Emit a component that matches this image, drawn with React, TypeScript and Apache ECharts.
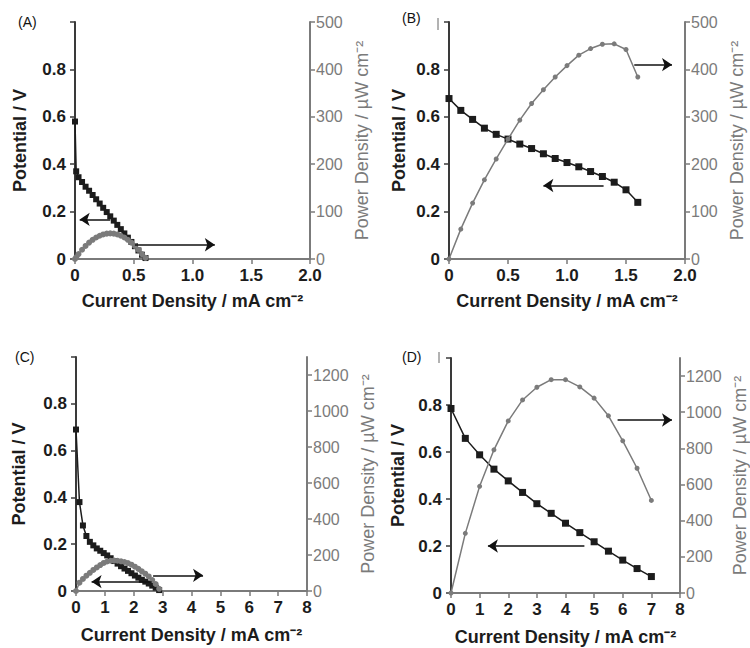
import React, { useEffect, useRef } from "react";
import * as echarts from "echarts";

// ---------- Data ----------
// Panel A
const currentA = [0, 0.01, 0.03, 0.06, 0.09, 0.12, 0.15, 0.18, 0.21, 0.24, 0.27, 0.3, 0.33, 0.36, 0.39, 0.42, 0.45, 0.48, 0.51, 0.54, 0.57, 0.6];
const potentialA = [0.58, 0.37, 0.345, 0.325, 0.305, 0.288, 0.27, 0.252, 0.234, 0.216, 0.198, 0.18, 0.162, 0.144, 0.126, 0.108, 0.09, 0.072, 0.054, 0.036, 0.018, 0.004];
const powerA = [0, 3.7, 10.4, 19.5, 27.5, 34.6, 40.5, 45.4, 49.1, 51.8, 53.5, 54, 53.5, 51.8, 49.1, 45.4, 40.5, 34.6, 27.5, 19.4, 10.3, 2.4];

// Panel B
const currentB = [0, 0.1, 0.2, 0.3, 0.4, 0.5, 0.6, 0.7, 0.8, 0.9, 1.0, 1.1, 1.2, 1.3, 1.4, 1.5, 1.6];
const potentialB = [0.677, 0.627, 0.589, 0.552, 0.526, 0.506, 0.485, 0.466, 0.444, 0.424, 0.407, 0.389, 0.369, 0.348, 0.324, 0.292, 0.239];
const powerB = [0, 63, 118, 167, 211, 253, 293, 328, 357, 384, 408, 430, 444, 453, 454, 442, 384];

// Panel C
const currentC = [0, 0.12, 0.24, 0.36, 0.48, 0.6, 0.72, 0.84, 0.96, 1.08, 1.2, 1.32, 1.44, 1.56, 1.68, 1.8, 1.92, 2.04, 2.16, 2.28, 2.4, 2.52, 2.64, 2.76, 2.88];
const potentialC = [0.69, 0.38, 0.28, 0.235, 0.21, 0.195, 0.182, 0.172, 0.162, 0.152, 0.14, 0.128, 0.117, 0.106, 0.096, 0.086, 0.076, 0.066, 0.057, 0.048, 0.04, 0.032, 0.023, 0.014, 0.004];
const powerC = [0, 46, 67, 85, 101, 117, 131, 144, 156, 164, 168, 169, 168, 165, 161, 155, 146, 135, 123, 109, 96, 81, 61, 39, 12];

// Panel D
const currentD = [0, 0.5, 1.0, 1.5, 2.0, 2.5, 3.0, 3.5, 4.0, 4.5, 5.0, 5.5, 6.0, 6.5, 7.0];
const potentialD = [0.785, 0.658, 0.588, 0.527, 0.477, 0.428, 0.38, 0.339, 0.297, 0.257, 0.218, 0.178, 0.14, 0.104, 0.07];
const powerD = [0, 330, 590, 792, 952, 1068, 1138, 1180, 1180, 1140, 1078, 980, 842, 690, 512];

// Arrows: [fromX, toX, y]
const arrowLeftA = [0.3, 0.04, 0.167];
const arrowRightA = [0.51, 1.19, 30];
const arrowLeftB = [1.31, 0.8, 0.31];
const arrowRightB = [1.57, 1.89, 410];
const arrowLeftC = [2.62, 0.54, 0.04];
const arrowRightC = [2.67, 4.4, 87];
const arrowLeftD = [4.66, 1.29, 0.2];
const arrowRightD = [5.82, 7.72, 957];

// Axis ticks
const potentialTicks = [0, 0.2, 0.4, 0.6, 0.8, 1.0];
const powerTicksAB = [0, 100, 200, 300, 400, 500];
const powerTicksCD = [0, 200, 400, 600, 800, 1000, 1200];
const panelLabels = ["(A)", "(B)", "(C)", "(D)"];

const FONT = "'Liberation Sans', Arial, Helvetica, sans-serif";
const DARK = "#1c1c1c";
const GRAY = "#7b7b7b";

type PanelCfg = {
  idx: number;
  grid: { left: number; top: number; width: number; height: number };
  xMax: number;
  xInterval: number;
  pMax: number;
  pTicks: number[];
  cur: number[];
  pot: number[];
  pow: number[];
  aL: number[];
  aR: number[];
  gapL: number;
  gapR: number;
  gapX: number;
  sqSize: number;
  ciSize: number;
};

function arrow(a: number[]) {
  return {
    silent: true,
    animation: false,
    symbol: ["none", "arrow"],
    symbolSize: 10,
    label: { show: false },
    emphasis: { disabled: true },
    lineStyle: { color: "#111", width: 1.5, type: "solid" },
    data: [[{ coord: [a[0], a[2]] }, { coord: [a[1], a[2]] }]],
  };
}

function build(cfg: PanelCfg) {
  const { idx } = cfg;
  const grid = { ...cfg.grid, containLabel: false };
  const xAxis = {
    gridIndex: idx,
    type: "value",
    min: 0,
    max: cfg.xMax,
    interval: cfg.xInterval,
    axisLine: { show: true, onZero: false, lineStyle: { color: "#7a7a7a", width: 2 } },
    axisTick: { show: true, length: 5, lineStyle: { color: "#7a7a7a", width: 1.5 } },
    axisLabel: {
      color: DARK,
      fontWeight: "bold",
      fontSize: 17,
      fontFamily: FONT,
      margin: 8,
      formatter: (v: number) => (v === 0 ? "0" : cfg.xInterval < 1 ? v.toFixed(1) : String(v)),
    },
    splitLine: { show: false },
    name: "Current Density / mA cm⁻²",
    nameLocation: "middle",
    nameGap: cfg.gapX,
    nameTextStyle: { color: DARK, fontWeight: "bold", fontSize: 18, fontFamily: FONT },
  };
  const yLeft = {
    gridIndex: idx,
    type: "value",
    position: "left",
    min: 0,
    max: 1,
    interval: 0.2,
    axisLine: { show: true, onZero: false, lineStyle: { color: "#3a3a3a", width: 2 } },
    axisTick: { show: true, length: 5, customValues: potentialTicks, lineStyle: { color: "#3a3a3a", width: 1.5 } },
    axisLabel: {
      color: DARK,
      fontWeight: "bold",
      fontSize: 17,
      fontFamily: FONT,
      margin: 9,
      customValues: potentialTicks.slice(0, 5),
      formatter: (v: number) => (v === 0 ? "0" : v.toFixed(1)),
    },
    splitLine: { show: false },
    name: "Potential / V",
    nameLocation: "middle",
    nameRotate: 90,
    nameGap: cfg.gapL,
    nameTextStyle: { color: DARK, fontWeight: "bold", fontSize: 18, fontFamily: FONT },
  };
  const yRight = {
    gridIndex: idx,
    type: "value",
    position: "right",
    min: 0,
    max: cfg.pMax,
    interval: cfg.pTicks[1] - cfg.pTicks[0],
    axisLine: { show: true, onZero: false, lineStyle: { color: GRAY, width: 2 } },
    axisTick: { show: true, length: 5, customValues: cfg.pTicks, lineStyle: { color: GRAY, width: 1.5 } },
    axisLabel: {
      color: GRAY,
      fontSize: 16,
      fontFamily: FONT,
      margin: 6,
      customValues: cfg.pTicks,
      formatter: (v: number) => String(v),
    },
    splitLine: { show: false },
    name: "Power Density / µW cm⁻²",
    nameLocation: "middle",
    nameRotate: 90,
    nameGap: cfg.gapR,
    nameTextStyle: { color: GRAY, fontSize: 18, fontFamily: FONT },
  };
  const series = [
    {
      type: "line",
      xAxisIndex: idx,
      yAxisIndex: idx * 2,
      data: cfg.cur.map((c, i) => [c, cfg.pot[i]]),
      symbol: "rect",
      symbolSize: cfg.sqSize,
      showSymbol: true,
      lineStyle: { color: DARK, width: 1.5 },
      itemStyle: { color: DARK },
      emphasis: { disabled: true },
      z: 2,
      markLine: arrow(cfg.aL),
    },
    {
      type: "line",
      xAxisIndex: idx,
      yAxisIndex: idx * 2 + 1,
      data: cfg.cur.map((c, i) => [c, cfg.pow[i]]),
      symbol: "circle",
      symbolSize: cfg.ciSize,
      showSymbol: true,
      lineStyle: { color: GRAY, width: 1.5 },
      itemStyle: { color: GRAY },
      emphasis: { disabled: true },
      z: 3,
      markLine: arrow(cfg.aR),
    },
  ];
  return { grid, xAxis, yAxes: [yLeft, yRight], series };
}

export default function App() {
  const ref = useRef<HTMLDivElement>(null);
  useEffect(() => {
    if (!ref.current) return;
    const chart = echarts.init(ref.current, undefined, { renderer: "svg" });
    const panels = [
      build({
        idx: 0, grid: { left: 75, top: 22, width: 235, height: 237 },
        xMax: 2, xInterval: 0.5, pMax: 500, pTicks: powerTicksAB,
        cur: currentA, pot: potentialA, pow: powerA, aL: arrowLeftA, aR: arrowRightA,
        gapL: 46, gapR: 43, gapX: 33, sqSize: 6, ciSize: 6,
      }),
      build({
        idx: 1, grid: { left: 449, top: 22, width: 236, height: 237 },
        xMax: 2, xInterval: 0.5, pMax: 500, pTicks: powerTicksAB,
        cur: currentB, pot: potentialB, pow: powerB, aL: arrowLeftB, aR: arrowRightB,
        gapL: 41, gapR: 43, gapX: 33, sqSize: 7, ciSize: 5,
      }),
      build({
        idx: 2, grid: { left: 76, top: 357, width: 231, height: 234 },
        xMax: 8, xInterval: 1, pMax: 1300, pTicks: powerTicksCD,
        cur: currentC, pot: potentialC, pow: powerC, aL: arrowLeftC, aR: arrowRightC,
        gapL: 48, gapR: 52, gapX: 35, sqSize: 6, ciSize: 6,
      }),
      build({
        idx: 3, grid: { left: 451, top: 358, width: 232, height: 235 },
        xMax: 8, xInterval: 1, pMax: 1300, pTicks: powerTicksCD,
        cur: currentD, pot: potentialD, pow: powerD, aL: arrowLeftD, aR: arrowRightD,
        gapL: 44, gapR: 51, gapX: 35, sqSize: 7, ciSize: 5,
      }),
    ];
    const labelPos = [
      [18, 15],
      [402, 11],
      [15, 350],
      [402, 350],
    ];
    chart.setOption({
      animation: false,
      backgroundColor: "#ffffff",
      textStyle: { fontFamily: FONT },
      grid: panels.map((p) => p.grid),
      xAxis: panels.map((p) => p.xAxis),
      yAxis: panels.flatMap((p) => p.yAxes),
      series: panels.flatMap((p) => p.series),
      graphic: [
        ...panelLabels.map((t, i) => ({
          type: "text",
          left: labelPos[i][0],
          top: labelPos[i][1],
          style: { text: t, fontSize: 14, fontFamily: FONT, fill: "#111" },
        })),
        { type: "line", shape: { x1: 438, y1: 18, x2: 438, y2: 30 }, style: { stroke: "#666", lineWidth: 1 } },
        { type: "line", shape: { x1: 439, y1: 352, x2: 439, y2: 363 }, style: { stroke: "#666", lineWidth: 1 } },
      ],
    });
    return () => chart.dispose();
  }, []);
  return (
    <div
      ref={ref}
      style={{ position: "absolute", left: 0, top: 0, width: 750, height: 648, background: "#fff" }}
    />
  );
}
